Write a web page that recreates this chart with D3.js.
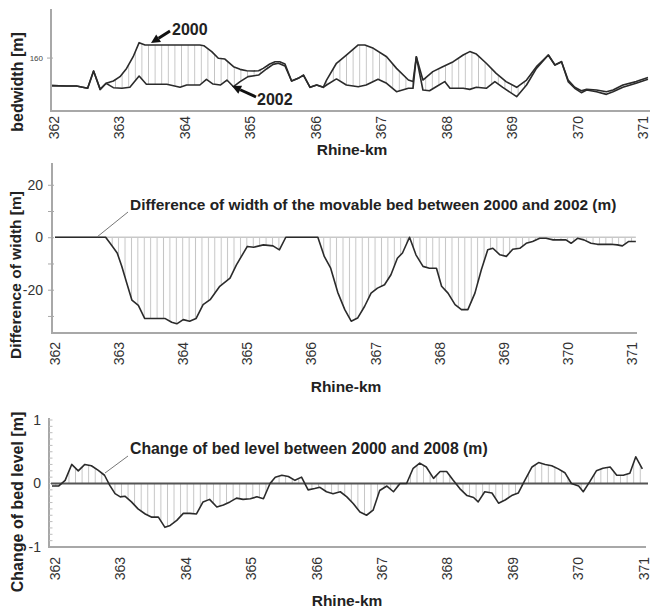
<!DOCTYPE html>
<html><head><meta charset="utf-8">
<script src="https://cdn.jsdelivr.net/npm/d3@7"></script>
<style>body{margin:0;background:#fff}svg{display:block;font-family:"Liberation Sans",Arial,sans-serif}</style>
</head><body><svg id="c" width="651" height="609"></svg>
<script>
// ---- data ----
const kmTicks = [362,363,364,365,366,367,368,369,370,371];

// Panel 1: bedwidth [m]
const km2000 = [362.0,362.22,362.37,362.54,362.63,362.73,362.82,362.93,363.03,363.13,363.23,363.32,363.41,363.8,364.24,364.30,364.42,364.52,364.62,364.75,364.85,364.95,365.05,365.13,365.20,365.30,365.38,365.45,365.53,365.63,365.73,365.81,365.91,366.01,366.11,366.16,366.31,366.46,366.64,366.74,366.87,367.07,367.22,367.40,367.47,367.52,367.62,367.77,367.92,368.08,368.23,368.33,368.43,368.58,368.73,368.88,369.04,369.19,369.34,369.52,369.62,369.72,369.82,369.92,370.02,370.10,370.25,370.40,370.50,370.65,370.85,371.03];
const width2000 = [136.9,136.6,136.6,134.7,148.9,133.8,138.8,140.7,144.3,151.1,160.7,172.3,170.4,170.4,170.4,169.8,164.9,159.4,158.8,152.5,150.3,149.2,148.9,149.2,151.1,154.7,156.6,156.6,154.7,140.7,142.9,145.6,135.5,137.4,135.5,141.5,155.3,162.1,170.4,170.4,167.6,160.7,151.1,141.5,140.2,160.7,141.5,148.4,152.5,156.6,162.1,164.9,162.9,155.3,147.0,140.2,135.5,141.5,152.5,162.1,153.9,156.6,141.5,135.5,132.7,133.8,133.3,131.9,133.3,137.4,140.2,143.5];
const km2002 = [362.0,362.22,362.37,362.54,362.63,362.73,362.82,362.93,363.06,363.18,363.32,363.43,363.74,363.94,364.04,364.24,364.34,364.44,364.55,364.65,364.75,364.85,364.97,365.13,365.25,365.35,365.43,365.53,365.63,365.73,365.81,365.91,366.01,366.11,366.16,366.31,366.46,366.64,366.76,366.94,367.07,367.22,367.40,367.47,367.52,367.62,367.72,367.82,367.95,368.03,368.23,368.33,368.43,368.58,368.71,368.83,369.04,369.19,369.34,369.52,369.62,369.72,369.82,369.92,370.02,370.10,370.25,370.40,370.50,370.65,370.85,371.03];
const width2002 = [136.9,136.6,136.6,134.7,148.9,133.8,138.8,135.2,134.7,135.5,144.8,138.0,138.0,135.5,137.4,137.4,142.1,138.2,137.4,141.5,136.0,140.2,144.3,145.6,150.6,154.4,155.3,153.1,140.7,142.9,145.6,135.5,137.4,135.5,137.4,142.4,137.4,136.0,137.4,142.1,138.8,131.9,134.7,134.7,160.7,133.3,132.7,136.0,140.2,134.7,134.7,133.8,135.5,134.7,140.2,135.5,127.8,137.4,151.1,162.1,153.9,156.6,140.2,134.7,131.1,133.3,131.9,129.7,131.9,135.5,138.8,142.1];
const widthTicks = [160];

// Panel 2: difference of width [m]
const kmDiff = [362.0,362.79,362.86,362.97,363.04,363.12,363.2,363.3,363.4,363.54,363.72,363.82,363.9,364.0,364.1,364.2,364.31,364.42,364.57,364.73,364.83,365.0,365.1,365.25,365.4,365.5,365.6,366.1,366.2,366.3,366.41,366.52,366.62,366.72,366.83,366.93,367.03,367.14,367.24,367.34,367.42,367.53,367.63,367.74,367.84,367.95,368.03,368.13,368.24,368.34,368.44,368.55,368.65,368.75,368.83,368.94,369.04,369.14,369.25,369.35,369.45,369.56,369.66,369.77,369.87,369.97,370.05,370.15,370.25,370.36,370.46,370.56,370.67,370.77,370.85,370.95,371.06];
const diffWidth = [0,0,-2.3,-6,-11,-17.5,-24,-26,-31,-31,-31,-32.4,-33,-31.4,-32,-31,-25.7,-23.8,-18.7,-15.6,-10.5,-3.5,-3.8,-2.9,-3.3,-4.8,0,0,-7.3,-11.8,-21,-27.6,-32,-30.8,-26.3,-21.3,-19.4,-18.1,-14.3,-8,-6,0,-6.7,-11.1,-11.8,-11.8,-18.7,-21.3,-25.7,-27.6,-27.6,-21.3,-12.4,-4.8,-4.2,-6.7,-7.3,-4.6,-4.2,-2.3,-1.6,-0.4,-0.4,-1,-1,-1,-2.3,-0.4,-1,-2.3,-2.7,-2.7,-2.7,-2.9,-3.3,-1.6,-1.6];
const diffTicks = [20,0,-20];
const diffMinor = [10,-10,-30];

// Panel 3: change of bed level [m]
const kmLevel = [362.0,362.1,362.2,362.3,362.4,362.5,362.6,362.7,362.8,362.88,362.96,363.04,363.11,363.21,363.31,363.42,363.52,363.62,363.72,363.8,363.9,364.0,364.1,364.2,364.3,364.4,364.51,364.61,364.71,364.81,364.91,365.02,365.12,365.22,365.32,365.4,365.5,365.6,365.7,365.8,365.9,366.0,366.08,366.18,366.28,366.39,366.49,366.59,366.69,366.79,366.89,366.99,367.10,367.20,367.30,367.40,367.50,367.60,367.70,367.81,367.91,368.01,368.11,368.21,368.32,368.42,368.49,368.59,368.70,368.80,368.90,369.00,369.10,369.20,369.31,369.41,369.51,369.61,369.71,369.81,369.91,370.02,370.09,370.19,370.29,370.39,370.50,370.60,370.70,370.80,370.89,370.99];
const levelChange = [-0.04,-0.04,0.05,0.30,0.20,0.30,0.28,0.21,0.13,-0.03,-0.16,-0.21,-0.20,-0.29,-0.40,-0.48,-0.53,-0.53,-0.69,-0.66,-0.58,-0.47,-0.47,-0.48,-0.29,-0.25,-0.37,-0.34,-0.29,-0.23,-0.25,-0.24,-0.21,-0.24,0,0.10,0.13,0.11,0.05,0.10,-0.10,-0.08,-0.06,-0.13,-0.16,-0.13,-0.21,-0.32,-0.45,-0.50,-0.42,-0.11,-0.04,-0.13,0,0,0.24,0.32,0.26,0.08,0.19,0.19,0.05,-0.08,-0.19,-0.22,-0.29,-0.13,-0.15,-0.31,-0.26,-0.19,-0.15,0.05,0.26,0.33,0.30,0.28,0.23,0.17,0,-0.04,-0.13,0.03,0.20,0.24,0.26,0.13,0.13,0.16,0.42,0.23];
const levelTicks = [1,0,-1];

// ---- drawing ----
const svg = d3.select("#c");
svg.append("rect").attr("width",651).attr("height",609).attr("fill","#fff");
const defs = svg.append("defs");
const AX = "#a8a8a8", LN = "#2b2b2b", TX = "#222", HATCH = "#c4c4c4";

function hatch(id, step){
  const p = defs.append("pattern").attr("id",id).attr("patternUnits","userSpaceOnUse")
    .attr("width",step).attr("height",20);
  p.append("line").attr("x1",step/2).attr("x2",step/2).attr("y1",0).attr("y2",20)
    .attr("stroke",HATCH).attr("stroke-width",1);
}
function xAxis(g, x, y0, labelOff){
  const ax = g.append("g").attr("transform",`translate(0,${y0})`)
    .call(d3.axisBottom(x).tickValues(kmTicks).tickSize(0).tickFormat(d3.format("d")));
  ax.select(".domain").remove();
  ax.selectAll("text").attr("transform","rotate(-90)").attr("text-anchor","end")
    .attr("x",-labelOff).attr("y",0).attr("dy","0.36em")
    .attr("font-size",14).attr("fill","#333").attr("font-family","Liberation Sans, Arial, sans-serif");
}
function hline(x1,x2,y,c,w){svg.append("line").attr("x1",x1).attr("x2",x2).attr("y1",y).attr("y2",y).attr("stroke",c).attr("stroke-width",w);}
function vline(x,y1,y2,c,w){svg.append("line").attr("x1",x).attr("x2",x).attr("y1",y1).attr("y2",y2).attr("stroke",c).attr("stroke-width",w);}
function label(txt,x,y,size,opts={}){
  const t = svg.append("text").text(txt).attr("x",x).attr("y",y).attr("font-size",size)
    .attr("fill",TX).attr("font-weight",opts.bold?"bold":"normal")
    .attr("text-anchor",opts.anchor||"start");
  if(opts.rot) t.attr("transform",`rotate(-90,${x},${y})`).attr("dy","0.36em");
  if(opts.fit){ const L=t.node().getComputedTextLength(); t.attr("font-size",size*opts.fit/L); }
  return t;
}
function arrow(x1,y1,x2,y2){
  const dx=x2-x1, dy=y2-y1, L=Math.hypot(dx,dy), ux=dx/L, uy=dy/L, hl=9, hw=4.5;
  const bx=x2-ux*hl, by=y2-uy*hl;
  svg.append("line").attr("x1",x1).attr("y1",y1).attr("x2",bx).attr("y2",by).attr("stroke","#111").attr("stroke-width",3);
  svg.append("path").attr("d",`M${x2},${y2}L${bx-uy*hw},${by+ux*hw}L${bx+uy*hw},${by-ux*hw}Z`).attr("fill","#111");
}
const lineGen = (x,y) => d3.line().x(d=>x(d[0])).y(d=>y(d[1]));
const zip = (a,b) => a.map((v,i)=>[v,b[i]]);

// ===== Panel 1 =====
{
  const x = d3.scaleLinear().domain([362,371]).range([52,646]);
  const y = d3.scaleLinear().domain([116,200]).range([111,9]);
  hatch("h1", x(362.1)-x(362));
  const p2000 = zip(km2000,width2000), p2002 = zip(km2002,width2002);
  const poly = p2000.concat(p2002.slice().reverse());
  svg.append("path").attr("d",lineGen(x,y)(poly)+"Z").attr("fill","url(#h1)");
  vline(51,9,112,AX,2); hline(50,650,111,AX,2);
  const ya = svg.append("g").attr("transform","translate(51,0)")
    .call(d3.axisLeft(y).tickValues(widthTicks).tickSize(4).tickPadding(4));
  ya.select(".domain").remove();
  ya.selectAll("line").attr("x1",2).attr("stroke",AX);
  ya.selectAll("text").attr("font-size",8).attr("fill","#444").attr("font-family","Liberation Sans, Arial, sans-serif");
  [p2002,p2000].forEach(p=>svg.append("path").attr("d",lineGen(x,y)(p)).attr("fill","none")
    .attr("stroke",LN).attr("stroke-width",1.6).attr("stroke-linejoin","round"));
  xAxis(svg, x.copy().range([53,642.5]), 111, 5);
  label("bedwidth [m]",17,82,16,{bold:true,rot:true,anchor:"middle"});
  label("Rhine-km",352,155,15.5,{bold:true,anchor:"middle"});
  label("2000",172,35,16,{bold:true});
  label("2002",257,105,16,{bold:true});
  arrow(170,31,151,43);
  arrow(256,97,232,86);
}

// ===== Panel 2 =====
{
  const x = d3.scaleLinear().domain([362,371]).range([55,632]);
  const y = d3.scaleLinear().domain([-36.5,28.3]).range([333,163]);
  hatch("h2", x(362.1)-x(362));
  const pts = zip(kmDiff,diffWidth);
  svg.append("path").attr("d",d3.area().x(d=>x(d[0])).y0(y(0)).y1(d=>y(d[1]))(pts)).attr("fill","url(#h2)");
  hline(x(362),x(371.06),y(0),"#c8c8c8",1.5);
  vline(52,163,334,AX,2); hline(51,637,333,AX,2);
  const ya = svg.append("g").attr("transform","translate(52,0)")
    .call(d3.axisLeft(y).tickValues(diffTicks.concat(diffMinor)).tickSize(4).tickPadding(5)
      .tickFormat(d=>diffTicks.includes(d)?d3.format("d")(d).replace("−","-"):""));
  ya.select(".domain").remove();
  ya.selectAll("line").attr("x1",2).attr("stroke",AX);
  ya.selectAll("text").attr("font-size",14).attr("fill","#333").attr("font-family","Liberation Sans, Arial, sans-serif");
  svg.append("path").attr("d",lineGen(x,y)(pts)).attr("fill","none")
    .attr("stroke",LN).attr("stroke-width",1.6).attr("stroke-linejoin","round");
  xAxis(svg, x.copy().range([54.5,631.5]), 333, 9);
  label("Difference of width [m]",15,275,15.5,{bold:true,rot:true,anchor:"middle"});
  label("Rhine-km",346,392,15.5,{bold:true,anchor:"middle"});
  svg.append("line").attr("x1",97).attr("y1",237).attr("x2",128).attr("y2",212).attr("stroke","#777").attr("stroke-width",1);
  label("Difference of width of the movable bed between 2000 and 2002 (m)",130,210,14,{bold:true,fit:487});
}

// ===== Panel 3 =====
{
  const x = d3.scaleLinear().domain([362,371]).range([52,643]);
  const y = d3.scaleLinear().domain([-1,1]).range([547,420]);
  hatch("h3", x(362.1)-x(362));
  const pts = zip(kmLevel,levelChange);
  svg.append("path").attr("d",d3.area().x(d=>x(d[0])).y0(y(0)).y1(d=>y(d[1]))(pts)).attr("fill","url(#h3)");
  vline(49,418,548,AX,2); hline(48,646,547,AX,2);
  d3.range(-10,11).forEach(i=>{ if(i===-10) return; hline(49,52.5,y(i/10),"#bdbdbd",1); });
  const ya = svg.append("g").attr("transform","translate(49,0)")
    .call(d3.axisLeft(y).tickValues(levelTicks).tickSize(0).tickPadding(8)
      .tickFormat(d=>d3.format("d")(d).replace("−","-")));
  ya.select(".domain").remove();
  ya.selectAll("text").attr("font-size",14).attr("fill","#333").attr("font-family","Liberation Sans, Arial, sans-serif");
  hline(51,648,y(0),"#555",2);
  svg.append("path").attr("d",lineGen(x,y)(pts)).attr("fill","none")
    .attr("stroke",LN).attr("stroke-width",1.6).attr("stroke-linejoin","round");
  xAxis(svg, x.copy().range([54.5,643]), 547, 10);
  label("Change of bed level [m]",17,502,16,{bold:true,rot:true,anchor:"middle"});
  label("Rhine-km",347,606,15.5,{bold:true,anchor:"middle"});
  svg.append("line").attr("x1",105).attr("y1",473).attr("x2",128).attr("y2",456).attr("stroke","#777").attr("stroke-width",1);
  label("Change of bed level between 2000 and 2008 (m)",130,454,14,{bold:true,fit:358});
}
</script></body></html>
